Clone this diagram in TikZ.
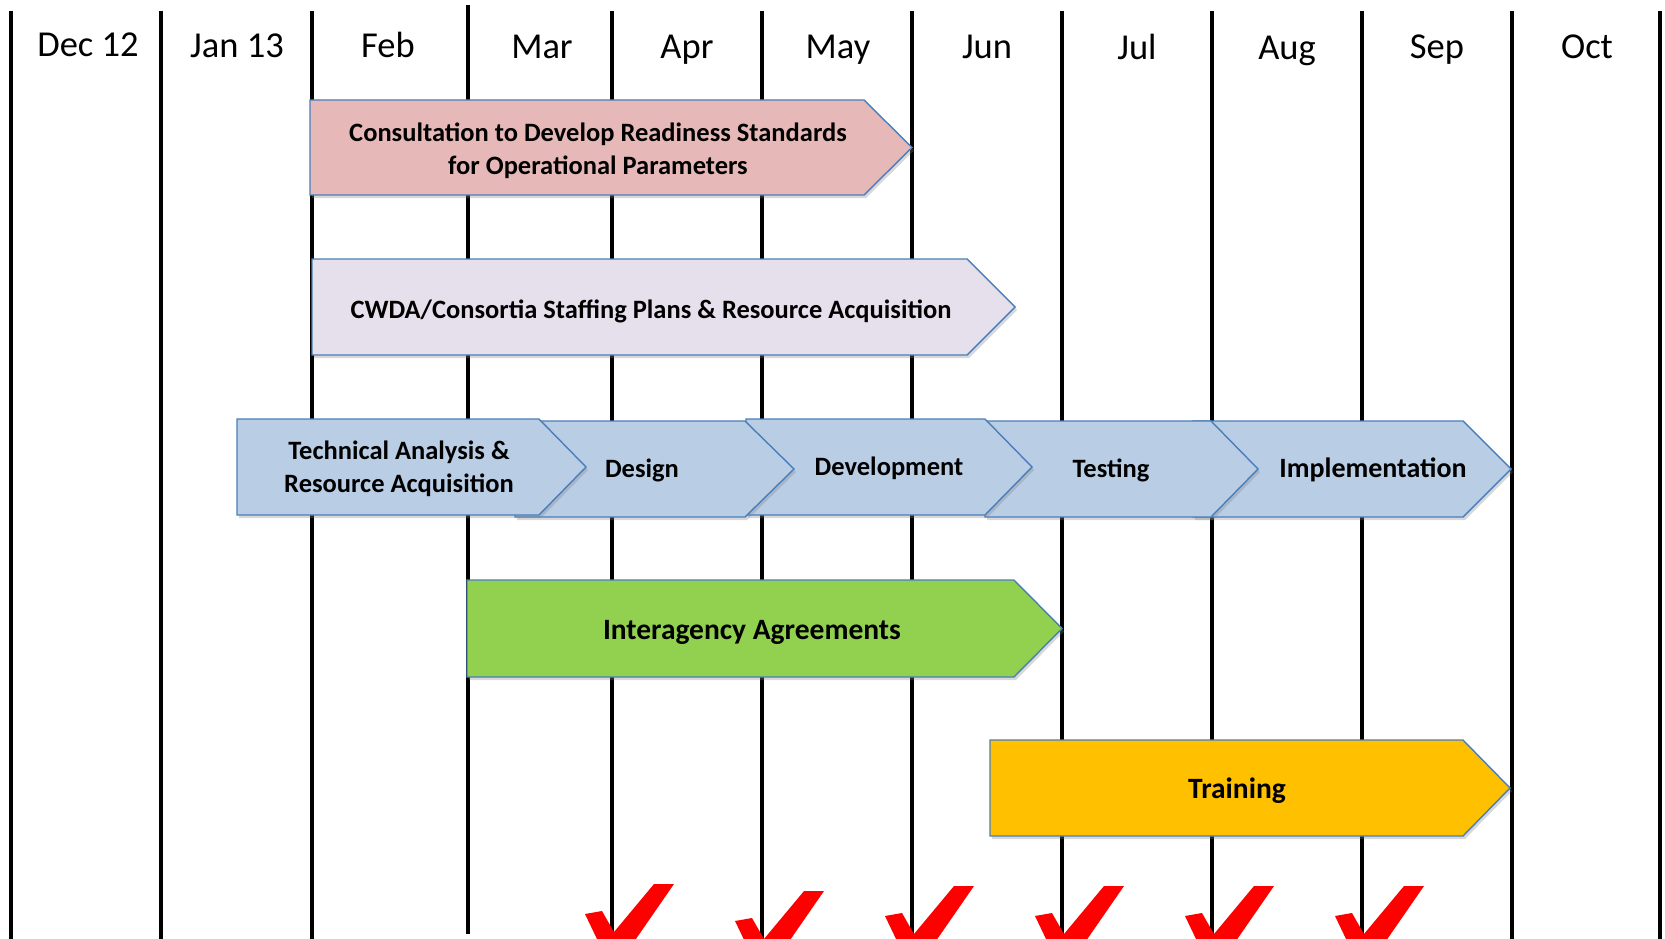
\documentclass[tikz,border=0pt]{standalone}
\usepackage{fontspec}
\setmainfont{Carlito}
\usetikzlibrary{shadows}
\definecolor{pinkf}{HTML}{E6B9B8}
\definecolor{lavf}{HTML}{E6E0EC}
\definecolor{bluef}{HTML}{B9CDE5}
\definecolor{greenf}{HTML}{92D050}
\definecolor{orangef}{HTML}{FFC000}
\definecolor{edgeb}{HTML}{4A7EBB}
\newcommand{\barshape}[6]{%
  \filldraw[barstyle, fill=#1] (#2,#5) -- (#3,#5) -- (#4,{(#5+#6)/2}) -- (#3,#6) -- (#2,#6) -- cycle;}
\newcommand{\checkm}[2]{%
  \begin{scope}[shift={(#1,#2)}]
    \fill[red] (-27,914) -- (-10,911) -- (2,932) -- (42,884) -- (62,884) -- (8,962) -- (-4,962) -- cycle;
  \end{scope}}
\begin{document}
\begin{tikzpicture}[x=1pt,y=-1pt,
  gridline/.style={line width=4.5pt, black},
  month/.style={font=\fontsize{36.5}{42}\selectfont, anchor=base},
  barstyle/.style={draw=edgeb, line width=1.4pt, line join=miter,
     drop shadow={opacity=0.3, shadow xshift=2pt, shadow yshift=-3pt}},
  bartext/.style={font=\fontsize{26.5}{33}\selectfont\bfseries, align=center},
  bigtext/.style={font=\fontsize{29.5}{35}\selectfont\bfseries, align=center}]
\useasboundingbox (0,0) rectangle (1665,939);
\fill[white] (0,0) rectangle (1665,939);
% grid lines
\foreach \x in {11,161,312,612,762,912,1062,1212,1362,1512,1660}
  \draw[gridline] (\x,11) -- (\x,945);
\draw[gridline] (468,5) -- (468,934);
% month labels
\node[month] (m1) at (88,57) {Dec 12};
\node[month] (m2) at (237,58) {Jan 13};
\node[month] (m3) at (388,58) {Feb};
\node[month] (m4) at (542,59) {Mar};
\node[month] (m5) at (687,59) {Apr};
\node[month] (m6) at (838,59) {May};
\node[month] (m7) at (987,59) {Jun};
\node[month] (m8) at (1137,60) {Jul};
\node[month] (m9) at (1287,60) {Aug};
\node[month] (m10) at (1437,59) {Sep};
\node[month] (m11) at (1587,59) {Oct};
% bar 1
\barshape{pinkf}{310}{864}{912}{100}{195}
\node[bartext] (consult) at (598,151) {Consultation to Develop Readiness Standards\\for Operational Parameters};
% bar 2
\barshape{lavf}{312}{967}{1015}{259}{355}
\node[bartext] (cwda) at (651,311) {CWDA/Consortia Staffing Plans \& Resource Acquisition};
% blue row (drawn right to left)
\barshape{bluef}{1193}{1463}{1511}{421}{517}
\barshape{bluef}{985}{1211}{1258}{421}{517}
\barshape{bluef}{746}{985}{1032}{419}{515}
\barshape{bluef}{515}{745}{794}{421}{517}
\barshape{bluef}{237}{539}{586}{419}{515}
\node[bartext] (tech) at (399,469) {Technical Analysis \&\\Resource Acquisition};
\node[bartext] (design) at (642,470) {Design};
\node[bartext] (dev) at (889,468) {Development};
\node[bartext] (test) at (1111,470) {Testing};
\node[bartext, font=\fontsize{28}{33}\selectfont\bfseries] (impl) at (1373,470) {Implementation};
% bar 4
\barshape{greenf}{467}{1014}{1062}{580}{677}
\node[bigtext] (inter) at (752,632) {Interagency Agreements};
% bar 5
\barshape{orangef}{990}{1463}{1510}{740}{836}
\node[bigtext] (train) at (1237,791) {Training};
% check marks
\checkm{612}{0}
\checkm{762}{7}
\checkm{912}{2}
\checkm{1062}{2}
\checkm{1212}{2}
\checkm{1362}{2}
\end{tikzpicture}
\end{document}
